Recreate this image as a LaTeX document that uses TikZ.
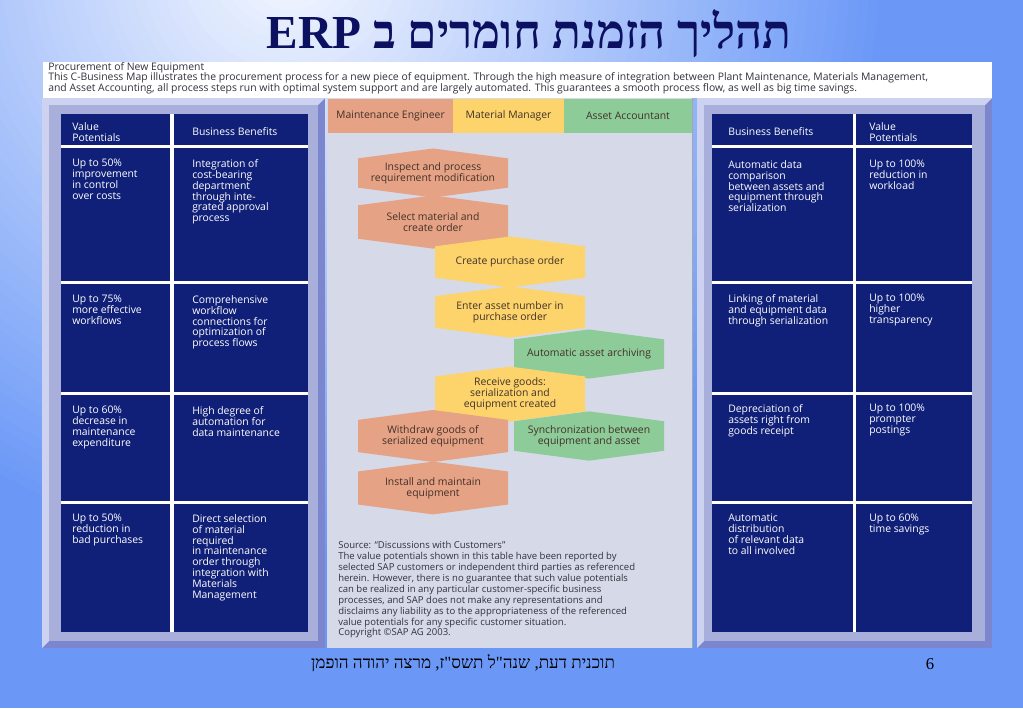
\documentclass[tikz,border=0pt]{standalone}
\usepackage{fontspec}
\setmainfont{Open Sans}
\newfontfamily\hebfont[Script=Hebrew]{Liberation Serif}
\TeXXeTstate=1
\usetikzlibrary{shapes.symbols,calc}
\definecolor{bgblue}{RGB}{107,152,247}
\definecolor{frameL}{RGB}{205,210,240}
\definecolor{frameM}{RGB}{169,175,219}
\definecolor{frameD}{RGB}{123,134,207}
\definecolor{navy}{RGB}{16,32,120}
\definecolor{centerbg}{RGB}{214,217,232}
\definecolor{salmon}{RGB}{230,162,132}
\definecolor{yell}{RGB}{253,212,107}
\definecolor{greenl}{RGB}{141,203,152}
\definecolor{hextext}{RGB}{66,50,42}
\definecolor{titlenavy}{RGB}{12,16,96}
\definecolor{headgray}{RGB}{50,50,60}
\newcommand\cellfont{\fontsize{7.8pt}{8.2pt}\selectfont}
\newcommand\hexfont{\fontsize{7.8pt}{8.25pt}\selectfont}
\begin{document}
\begin{tikzpicture}[x=0.75pt,y=-0.75pt,
  celltxt/.style={anchor=north west,inner sep=0pt,align=left,text=white,font=\cellfont},
  hexnode/.style={signal,signal to=north and south,signal pointer angle=165,
    minimum width=112.5pt,minimum height=34.5pt,inner sep=1pt,align=center,
    font=\hexfont,text=hextext},
  lanehead/.style={minimum height=25.5pt,inner sep=0pt,font=\fontsize{7.8pt}{9pt}\selectfont,text=hextext}]
\useasboundingbox (0,0) rectangle (1023,708);
% background
\begin{scope}
\clip (0,0) rectangle (1023,708);
\fill[bgblue] (0,0) rectangle (1023,708);
\foreach \i in {66,65,...,1}{
  \pgfmathsetmacro\p{min(100,6+94*\i/60)}
  \fill[bgblue!\p!white] (290,-40) circle[radius=\i*7.5pt];
}
\end{scope}
% title
\node[anchor=base,text=titlenavy,font=\hebfont\bfseries\fontsize{35.5pt}{40pt}\selectfont] (title) at (529,48)
  {\beginR תהליך הזמנת חומרים ב \beginL ERP\endL\endR};
% white header strip
\fill[white] (43,62) rectangle (992,98);
\node[anchor=north west,inner sep=0pt,align=left,text=headgray,font=\fontsize{7.8pt}{7.9pt}\selectfont] (intro) at (48,62)
  {Procurement of New Equipment\\
   This C-Business Map illustrates the procurement process for a new piece of equipment. Through the high measure of integration between Plant Maintenance, Materials Management,\\
   and Asset Accounting, all process steps run with optimal system support and are largely automated. This guarantees a smooth process flow, as well as big time savings.};
% left and right frames
\foreach \xa/\xb in {42/325,697/992}{
  \fill[frameD] (\xa,98) rectangle (\xb,648);
  \fill[frameL] (\xa,98) -- (\xb,98) -- ({\xb-7},105) -- ({\xa+7},105) -- ({\xa+7},641) -- (\xa,648) -- cycle;
  \fill[frameM] ({\xa+7},105) rectangle ({\xb-7},641);
}
% center panel
\fill[centerbg] (327,98) rectangle (693,648);
\draw[gray!70,line width=0.8pt] (692.5,98) -- (692.5,648);
% cell grids
\fill[white] (61,114) rectangle (308,632);
\fill[white] (712,114) rectangle (972,632);
\foreach \ya/\yb in {114/145,148/281,284/392,395/501,504/632}{
  \fill[navy] (61,\ya) rectangle (170,\yb);
  \fill[navy] (174,\ya) rectangle (308,\yb);
  \fill[navy] (712,\ya) rectangle (853,\yb);
  \fill[navy] (856,\ya) rectangle (972,\yb);
}
% left texts
\node[celltxt] (lh1) at (72,122) {Value\\Potentials};
\node[celltxt] (lh2) at (192,127.5) {Business Benefits};
\node[celltxt] (l11) at (72,159) {Up to 50\%\\improvement\\in control\\over costs};
\node[celltxt] (l12) at (192,159) {Integration of\\cost-bearing\\department\\through inte-\\grated approval\\process};
\node[celltxt] (l21) at (72,295) {Up to 75\%\\more effective\\workflows};
\node[celltxt] (l22) at (192,295) {Comprehensive\\workflow\\connections for\\optimization of\\process flows};
\node[celltxt] (l31) at (72,406) {Up to 60\%\\decrease in\\maintenance\\expenditure};
\node[celltxt] (l32) at (192,406) {High degree of\\automation for\\data maintenance};
\node[celltxt] (l41) at (72,514) {Up to 50\%\\reduction in\\bad purchases};
\node[celltxt] (l42) at (192,514) {Direct selection\\of material\\required\\in maintenance\\order through\\integration with\\Materials\\Management};
% right texts
\node[celltxt] (rh1) at (728,127.5) {Business Benefits};
\node[celltxt] (rh2) at (869,122) {Value\\Potentials};
\node[celltxt] (r11) at (728,160) {Automatic data\\comparison\\between assets and\\equipment through\\serialization};
\node[celltxt] (r12) at (869,160) {Up to 100\%\\reduction in\\workload};
\node[celltxt] (r21) at (728,294) {Linking of material\\and equipment data\\through serialization};
\node[celltxt] (r22) at (869,294) {Up to 100\%\\higher\\transparency};
\node[celltxt] (r31) at (728,404) {Depreciation of\\assets right from\\goods receipt};
\node[celltxt] (r32) at (869,404) {Up to 100\%\\prompter\\postings};
\node[celltxt] (r41) at (728,514) {Automatic\\distribution\\of relevant data\\to  all involved};
\node[celltxt] (r42) at (869,514) {Up to 60\%\\time savings};
% lane headers
\node[lanehead,fill=salmon,minimum width=93.75pt] (lane1) at (390.5,116) {Maintenance Engineer};
\node[lanehead,fill=yell,minimum width=83.25pt] (lane2) at (508.5,116) {Material Manager};
\node[lanehead,fill=greenl,minimum width=96pt] (lane3) at (628,116) {Asset Accountant};
% process steps
\node[hexnode,fill=salmon] (s1) at (433,173) {Inspect and process\\requirement modification};
\node[hexnode,fill=salmon] (s2) at (433,222) {Select material and\\create order};
\node[hexnode,fill=yell] (s3) at (510,262) {Create purchase order};
\node[hexnode,fill=yell] (s4) at (510,312) {Enter asset number in\\purchase order};
\node[hexnode,fill=greenl] (s5) at (589,354) {Automatic asset archiving};
\node[hexnode,fill=yell] (s6) at (510,394) {Receive goods:\\serialization and\\equipment created};
\node[hexnode,fill=salmon] (s7) at (433,436) {Withdraw goods of\\serialized equipment};
\node[hexnode,fill=greenl] (s8) at (589,436) {Synchronization between\\equipment and asset};
\node[hexnode,fill=salmon] (s9) at (433,488) {Install and maintain\\equipment};
% source text
\node[anchor=north west,inner sep=0pt,align=left,text=headgray,font=\fontsize{7.15pt}{8.2pt}\selectfont] (source) at (338,541)
  {Source: “Discussions with Customers”\\
   The value potentials shown in this table have been reported by\\
   selected SAP customers or independent third parties as referenced\\
   herein. However, there is no guarantee that such value potentials\\
   can be realized in any particular customer-specific business\\
   processes, and SAP does not make any representations and\\
   disclaims any liability as to the appropriateness of the referenced\\
   value potentials for any specific customer situation.\\
   Copyright ©SAP AG 2003.};
% footer
\node[anchor=base,text=black,font=\hebfont\fontsize{12.8pt}{15pt}\selectfont] (footer) at (463,668)
  {\beginR תוכנית דעת, שנה"ל תשס"ז, מרצה יהודה הופמן\endR};
\node[anchor=base,text=black,font=\hebfont\fontsize{12.5pt}{14pt}\selectfont] (pagenum) at (930,669) {6};
\end{tikzpicture}
\end{document}
